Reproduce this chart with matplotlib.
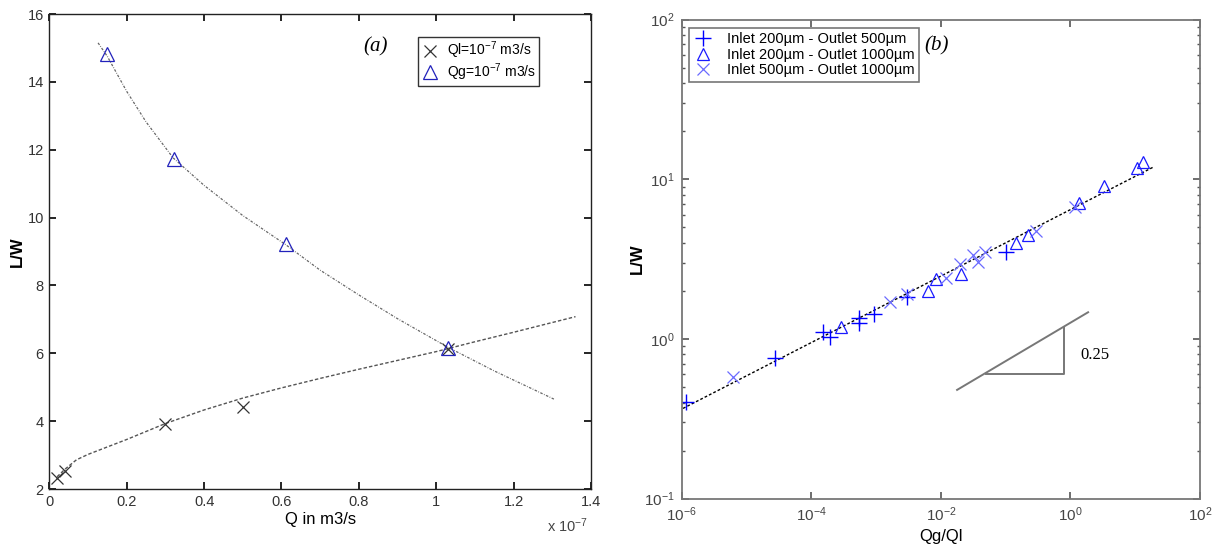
import matplotlib
matplotlib.use("Agg")
import matplotlib.pyplot as plt
import matplotlib.ticker as mticker
from matplotlib import font_manager

names = {f.name for f in font_manager.fontManager.ttflist}
SANS = ['Liberation Sans Narrow'] if 'Liberation Sans Narrow' in names else ['Liberation Sans']
plt.rcParams['font.family'] = SANS + ['DejaVu Sans']
plt.rcParams['mathtext.fontset'] = 'custom'
plt.rcParams['mathtext.rm'] = SANS[0]
plt.rcParams['mathtext.it'] = SANS[0]

# ---------------- panel (a) data (Q in units of 1e-7 m3/s) ----------------
ql_q = [0.02, 0.04, 0.30, 0.50, 1.03]
ql_lw = [2.33, 2.52, 3.93, 4.42, 6.12]
qg_q = [0.148, 0.321, 0.611, 1.03]
qg_lw = [14.81, 11.74, 9.21, 6.15]
# fitted curves
ql_fit_q = [0.02, 0.04, 0.07, 0.10, 0.15, 0.20, 0.30, 0.40, 0.50, 0.60, 0.70, 0.80, 0.90, 1.00, 1.10, 1.20, 1.36]
ql_fit_lw = [2.36, 2.58, 2.86, 3.02, 3.24, 3.46, 3.93, 4.33, 4.68, 4.98, 5.26, 5.53, 5.79, 6.05, 6.34, 6.62, 7.08]
qg_fit_q = [0.126, 0.15, 0.20, 0.25, 0.32, 0.40, 0.50, 0.61, 0.70, 0.80, 0.90, 1.03, 1.15, 1.306]
qg_fit_lw = [15.15, 14.75, 13.72, 12.82, 11.76, 10.95, 10.06, 9.21, 8.45, 7.72, 7.02, 6.18, 5.48, 4.64]
a_xticks = [0, 0.2, 0.4, 0.6, 0.8, 1.0, 1.2, 1.4]
a_xticklabels = ['0', '0.2', '0.4', '0.6', '0.8', '1', '1.2', '1.4']
a_yticks = [2, 4, 6, 8, 10, 12, 14, 16]

# ---------------- panel (b) data ----------------
s1_x = [10**-5.93, 10**-4.564, 10**-3.82, 10**-3.714, 10**-3.263, 10**-3.263, 10**-3.04, 10**-2.53, 10**-1.0]
s1_y = [0.405, 0.764, 1.11, 1.03, 1.36, 1.265, 1.43, 1.84, 3.52]
s2_x = [10**-3.538, 10**-2.196, 10**-2.073, 10**-1.692, 10**-0.842, 10**-0.654, 10**0.137, 10**0.518, 10**1.034, 10**1.122]
s2_y = [1.19, 2.01, 2.36, 2.57, 3.97, 4.46, 7.13, 9.08, 11.7, 12.9]
s3_x = [10**-5.209, 10**-2.782, 10**-2.53, 10**-1.926, 10**-1.698, 10**-1.504, 10**-1.434, 10**-1.317, 10**-0.525, 10**0.067]
s3_y = [0.58, 1.70, 1.90, 2.40, 2.95, 3.34, 3.05, 3.52, 4.77, 6.74]
fit_x = [10**-6.047, 10**1.292]
fit_y = [0.356, 12.0]
slope_line_x = [10**-1.75, 10**0.272]
slope_line_y = [0.48, 1.47]
tri_x = [10**-1.31, 10**-0.097, 10**-0.097]
tri_y = [0.601, 0.601, 1.19]
b_xticks = [1e-6, 1e-4, 1e-2, 1e0, 1e2]
b_yticks = [1e-1, 1e0, 1e1, 1e2]

fig = plt.figure(figsize=(12.15, 5.5), dpi=100)

# ================= panel (a) =================
ax = fig.add_axes([0.0406, 0.1109, 0.4458, 0.8636])
ax.plot(ql_fit_q, ql_fit_lw, color='#555555', lw=1.0, ls=(0, (2.5, 1.5)))
ax.plot(qg_fit_q, qg_fit_lw, color='#666666', lw=0.9, ls=(0, (2, 1.2, 0.6, 1.2)))
ax.plot(ql_q, ql_lw, ls='none', marker='x', ms=8, mew=0.9, color='#333333',
        label='Ql=10$^{-7}$ m3/s')
ax.plot(qg_q, qg_lw, ls='none', marker='^', ms=10, mew=0.9, mfc='none', mec='#2222bb',
        label='Qg=10$^{-7}$ m3/s')
ax.set_xlim(0, 1.4)
ax.set_ylim(2, 16)
ax.set_xticks(a_xticks)
ax.set_xticklabels(a_xticklabels)
ax.set_yticks(a_yticks)
ax.tick_params(direction='in', top=True, right=True, length=5, width=1.2,
               labelsize=10.5, colors='black', labelcolor='#333333', pad=4)
for sp in ax.spines.values():
    sp.set_color('#222222')
    sp.set_linewidth(1.0)
ax.set_ylabel('L/W', fontsize=12, fontweight='bold')
ax.yaxis.set_label_coords(-0.045, 0.5)
ax.set_xlabel('Q in m3/s', fontsize=12)
ax.xaxis.set_label_coords(0.5, -0.049)
ax.text(0.843, 15.03, '(a)', fontsize=15, fontstyle='italic', family='Liberation Serif',
        ha='center', va='center')
fig.text(568 / 1215, 1 - 526 / 550, r'x 10$^{-7}$', fontsize=10.5, color='#444444',
         ha='center', va='center')
leg = ax.legend(loc='upper left', bbox_to_anchor=((418 - 49.3) / 541.7, 1 - (37 - 14) / 475),
                fontsize=10, frameon=True, fancybox=False, edgecolor='black',
                borderpad=0.2, handletextpad=0.6, labelspacing=0.0, handlelength=1.3,
                borderaxespad=0)
leg.get_frame().set_linewidth(1.0)

# ================= panel (b) =================
bx = fig.add_axes([0.5611, 0.0933, 0.4266, 0.8711])
bx.set_xscale('log')
bx.set_yscale('log')
bx.plot(fit_x, fit_y, color='black', lw=1.0, ls=(0, (2, 1.5)))
bx.plot(slope_line_x, slope_line_y, color='#777777', lw=1.4)
bx.plot(tri_x, tri_y, color='#777777', lw=1.4)
bx.text(10**0.372, 0.79, '0.25', fontsize=12, family='Liberation Serif', ha='center', va='center')
bx.plot(s1_x, s1_y, ls='none', marker='+', ms=11, mew=1.0, color='#0000ff',
        label='Inlet 200µm - Outlet 500µm')
bx.plot(s2_x, s2_y, ls='none', marker='^', ms=8, mew=0.9, mfc='none', mec='#1a1aff',
        label='Inlet 200µm - Outlet 1000µm')
bx.plot(s3_x, s3_y, ls='none', marker='x', ms=8, mew=0.9, color='#6a6aff',
        label='Inlet 500µm - Outlet 1000µm')
bx.set_xlim(1e-6, 1e2)
bx.set_ylim(1e-1, 1e2)
bx.xaxis.set_major_locator(mticker.FixedLocator(b_xticks))
bx.xaxis.set_major_formatter(mticker.LogFormatterSciNotation())
bx.xaxis.set_minor_locator(mticker.NullLocator())
bx.yaxis.set_major_locator(mticker.FixedLocator(b_yticks))
bx.yaxis.set_major_formatter(mticker.LogFormatterSciNotation())
bx.yaxis.set_minor_locator(mticker.LogLocator(base=10, subs=range(2, 10)))
bx.yaxis.set_minor_formatter(mticker.NullFormatter())
bx.tick_params(which='major', direction='in', top=True, right=True, length=5, width=1.2,
               labelsize=11, color='#555555', labelcolor='#444444', pad=5)
bx.tick_params(which='minor', direction='in', right=True, left=True, length=2.5, width=1.0,
               color='#555555')
for sp in bx.spines.values():
    sp.set_color('#777777')
    sp.set_linewidth(1.3)
bx.set_ylabel('L/W', fontsize=12, fontweight='bold')
bx.yaxis.set_label_coords(-0.071, 0.5)
bx.set_xlabel('Qg/Ql', fontsize=12)
bx.xaxis.set_label_coords(0.5, -0.063)
bx.text(10**-2.07, 68, '(b)', fontsize=15, fontstyle='italic', family='Liberation Serif',
        ha='center', va='center')
leg2 = bx.legend(loc='upper left', bbox_to_anchor=((688.7 - 681.7) / 518.3, 1 - (28 - 19.6) / 479.1),
                 fontsize=10.5, frameon=True, fancybox=False, edgecolor='#555555',
                 borderpad=0.3, handletextpad=1.0, labelspacing=0.1, handlelength=1.3,
                 borderaxespad=0)
leg2.get_frame().set_linewidth(1.2)

fig.savefig('out.png', dpi=100)
